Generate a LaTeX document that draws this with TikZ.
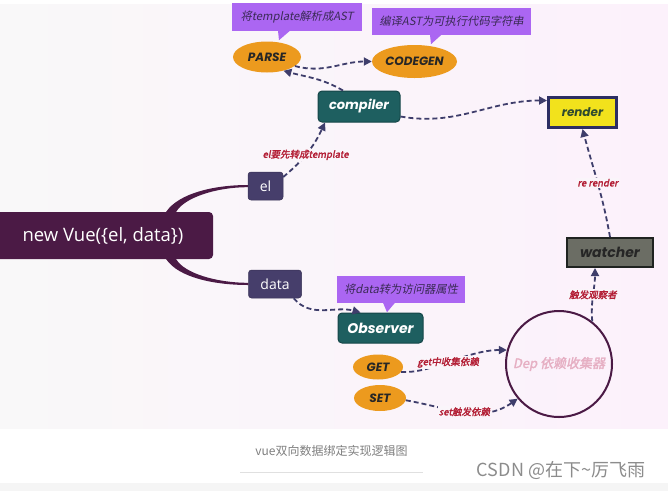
\documentclass[tikz,border=0pt]{standalone}
\usepackage{fontspec}
\setmainfont{Open Sans}
\newfontfamily\cjk{Noto Sans CJK SC}
\newfontfamily\cjki[FakeSlant=0.2]{Noto Sans CJK SC}
\newfontfamily\cjkbi[FakeSlant=0.2,FakeBold=2]{Noto Sans CJK SC}
\newfontfamily\lab{Poppins}
\usetikzlibrary{arrows.meta,shapes.geometric}
\definecolor{plum}{HTML}{4B1A45}
\definecolor{keycol}{HTML}{463E6B}
\definecolor{tealcol}{HTML}{1E5F60}
\definecolor{tealdark}{HTML}{154648}
\definecolor{orangecol}{HTML}{EC9A1E}
\definecolor{callcol}{HTML}{AB66F2}
\definecolor{calltext}{HTML}{3A2A55}
\definecolor{navy}{HTML}{3E3D6B}
\definecolor{redlab}{HTML}{B31E35}
\definecolor{yellowcol}{HTML}{F2E21C}
\definecolor{renderborder}{HTML}{2C2E63}
\definecolor{rendertext}{HTML}{2F4A2F}
\definecolor{watchercol}{HTML}{6B6D64}
\definecolor{watcherborder}{HTML}{1F2320}
\definecolor{deptext}{HTML}{E6AFC3}
\definecolor{bgL}{HTML}{F9F8F9}
\definecolor{bgR}{HTML}{FCF1FB}
\definecolor{bgM}{HTML}{FAF5FA}
\begin{document}
\begin{tikzpicture}[x=1pt,y=-1pt,
  mainbox/.style={fill=plum, rounded corners=4pt, inner sep=0pt, text=white,
    font=\fontsize{18.5}{21}\selectfont},
  keybox/.style={fill=keycol, draw=keycol!80!black, line width=0.5pt, rounded corners=3pt,
    inner sep=0pt, text=white, font=\fontsize{14}{16}\selectfont},
  tealbox/.style={fill=tealcol, draw=tealdark, line width=1pt, rounded corners=4pt,
    inner sep=0pt, text=white, font=\lab\bfseries\itshape\fontsize{13}{15}\selectfont},
  orangeell/.style={ellipse, fill=orangecol, inner sep=0pt, text=black!85,
    font=\lab\bfseries\itshape\fontsize{12}{14}\selectfont},
  callout/.style={fill=callcol, inner sep=0pt, text=calltext,
    font=\cjki\fontsize{11.3}{13}\selectfont},
  dashconn/.style={draw=navy, line width=1.8pt, dash pattern=on 5pt off 3pt,
    -{Triangle[length=8pt,width=8pt]}},
  redlabel/.style={text=redlab, font=\cjkbi\fontsize{9.5}{11}\selectfont, inner sep=1pt, fill=bgM}
]
\useasboundingbox (0,0) rectangle (668,491);
% background
\fill[white] (0,0) rectangle (668,491);
\shade[left color=bgL, right color=bgR] (0,4) rectangle (668,428);
\fill[black!4] (0,483) rectangle (668,491);

% main node and keys
\node[mainbox, minimum width=240pt, minimum height=47pt] (vue) at (93,235.5)
  {\hspace*{20pt}new Vue(\{el, data\})};
\node[keybox, minimum width=35pt, minimum height=28pt] (el) at (265.5,186) {el};
\node[keybox, minimum width=53pt, minimum height=28pt] (data) at (275,284) {data};

% tapered branches
\fill[plum] ([xshift=-47pt]vue.north east) .. controls +(12,-18) and +(-35,0) .. ([yshift=1pt]el.west)
  -- ([yshift=-1.2pt]el.west) .. controls +(-32,0) and +(8,-14) .. ([xshift=-37pt]vue.north east) -- cycle;
\fill[plum] ([xshift=-47pt]vue.south east) .. controls +(12,18) and +(-35,0) .. ([yshift=-1pt]data.west)
  -- ([yshift=1.2pt]data.west) .. controls +(-32,0) and +(8,14) .. ([xshift=-37pt]vue.south east) -- cycle;

% compile branch
\node[tealbox, minimum width=82pt, minimum height=31pt] (compiler) at (359,106.5) {compiler};
\node[orangeell, minimum width=68pt, minimum height=31pt] (parse) at (267,57) {PARSE};
\node[orangeell, minimum width=85pt, minimum height=33pt] (codegen) at (414.5,61.5) {CODEGEN};
\node[callout, minimum width=130pt, minimum height=28pt] (c1) at (297,17) {将template解析成AST};
\node[callout, minimum width=159pt, minimum height=27pt] (c2) at (451.5,21.5) {编译AST为可执行代码字符串};
\fill[callcol] ([xshift=-19pt,yshift=0.5pt]c1.south) -- ([xshift=-7pt,yshift=0.5pt]c1.south)
  -- ([xshift=-18pt,yshift=-9pt]c1.south) -- cycle;
\fill[callcol] ([xshift=-21.5pt,yshift=0.5pt]c2.south) -- ([xshift=-10pt,yshift=0.5pt]c2.south)
  -- ([xshift=-20.5pt,yshift=-9pt]c2.south) -- cycle;

\node[fill=yellowcol, draw=renderborder, line width=3pt, inner sep=0pt,
  minimum width=68pt, minimum height=30pt, text=rendertext,
  font=\lab\bfseries\itshape\fontsize{12}{14}\selectfont] (render) at (582.5,112.5) {render};
\node[fill=watchercol, draw=watcherborder, line width=2pt, inner sep=0pt,
  minimum width=86pt, minimum height=29pt, text=black!85,
  font=\lab\bfseries\itshape\fontsize{14}{16}\selectfont] (watcher) at (610,252.5) {watcher};

% data branch
\node[tealbox, minimum width=85pt, minimum height=30pt, font=\lab\bfseries\itshape\fontsize{14}{16}\selectfont]
  (observer) at (380.5,328) {Observer};
\node[callout, minimum width=128pt, minimum height=27pt] (c3) at (401,289.5) {将data转为访问器属性};
\fill[callcol] ([xshift=-18pt,yshift=0.5pt]c3.south) -- ([xshift=-6pt,yshift=0.5pt]c3.south)
  -- ([xshift=-14pt,yshift=-9pt]c3.south) -- cycle;
\node[orangeell, minimum width=50pt, minimum height=25pt] (get) at (378,367) {GET};
\node[orangeell, minimum width=52pt, minimum height=26pt] (set) at (380,398) {SET};
\node[circle, draw=plum, line width=2pt, minimum size=106pt, inner sep=0pt, text=deptext,
  font=\cjkbi\fontsize{13}{15}\selectfont] (dep) at (559,364) {Dep 依赖收集器};

% connectors
\draw[dashconn] ([xshift=-16pt]compiler.north) to[out=150,in=-15] (parse.-40);
\draw[dashconn] (parse.-18) to[out=-15,in=180] (codegen.west);
\draw[dashconn] ([yshift=-10pt]compiler.east) to[out=-10,in=180] ([yshift=12pt]render.west);
\draw[dashconn] ([yshift=9pt]el.east) to[out=40,in=-115]
  node[redlabel, pos=0.45] {el要先转成template} ([xshift=-34pt]compiler.south);
\draw[dashconn] ([xshift=-8pt]data.south east) to[out=-50,in=165] ([xshift=-20pt]observer.north);
\draw[dashconn] (get.-12) .. controls +(30,2) and +(-40,0) ..
  node[redlabel, pos=0.48] {get中收集依赖} (dep.165);
\draw[dashconn] (set.-5) to[out=-10,in=-145]
  node[redlabel, pos=0.5] {set触发依赖} (dep.220);
\draw[dashconn] (dep.52) to[out=95,in=-90]
  node[redlabel, pos=0.5] {触发观察者} ([xshift=-15pt]watcher.south);
\draw[dashconn] (watcher.north) to[out=100,in=-75]
  node[redlabel, pos=0.5] {re render} (render.south);

% caption
\node[text=black!50, font=\cjk\fontsize{12}{14}\selectfont] (cap) at (331.5,451) {vue双向数据绑定实现逻辑图};
\draw[black!12, line width=0.8pt] ([yshift=-21pt]cap.center) ++(-91.5,0) coordinate (ul) -- ++(183,0) coordinate (ur);
\node[text=black!45, font=\cjk\fontsize{18}{20}\selectfont] (csdn) at (561,470) {CSDN @在下\textasciitilde 厉飞雨};
\end{tikzpicture}
\end{document}
